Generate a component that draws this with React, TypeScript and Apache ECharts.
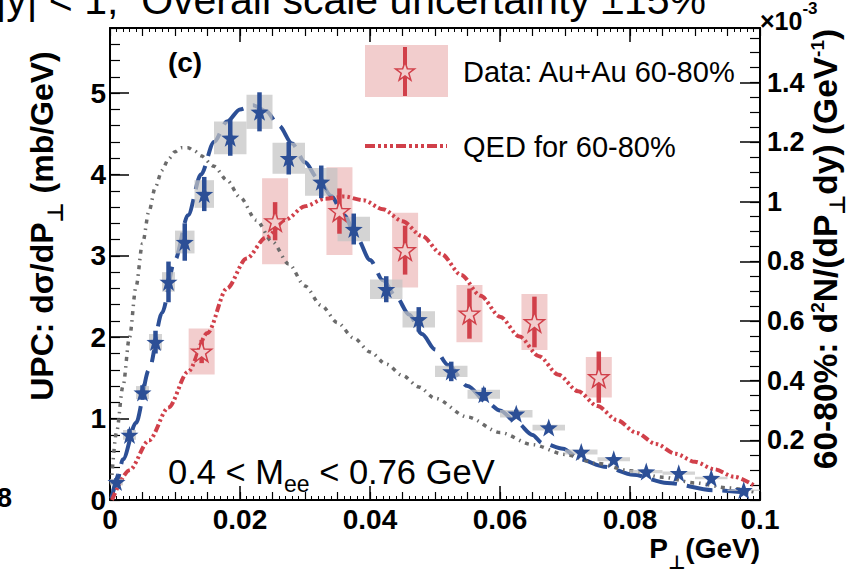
import React, { useEffect, useRef } from "react";
import * as echarts from "echarts";

const FONT = "'Liberation Sans', Arial, Helvetica, sans-serif";

// ---------- UPC measurement (left axis, mb/GeV) ----------
const upcPt = [0.001, 0.003, 0.005, 0.007, 0.009, 0.0115, 0.0145, 0.0185, 0.023, 0.0275, 0.0325, 0.0375, 0.0425, 0.0475, 0.0525, 0.0575, 0.0625, 0.0675, 0.0725, 0.0775, 0.0825, 0.0875, 0.0925, 0.0975];
const upcVal = [0.22, 0.8, 1.32, 1.94, 2.68, 3.17, 3.76, 4.45, 4.77, 4.2, 3.91, 3.33, 2.59, 2.22, 1.58, 1.3, 1.06, 0.89, 0.59, 0.5, 0.35, 0.33, 0.27, 0.12];
const upcStat = [0.05, 0.07, 0.09, 0.14, 0.25, 0.23, 0.21, 0.22, 0.24, 0.2, 0.2, 0.19, 0.16, 0.15, 0.12, 0.08, 0.05, 0.04, 0.03, 0.03, 0.02, 0.02, 0.02, 0.02];
const upcSys = [0.04, 0.06, 0.08, 0.1, 0.12, 0.14, 0.17, 0.2, 0.21, 0.19, 0.17, 0.15, 0.12, 0.1, 0.07, 0.055, 0.045, 0.035, 0.03, 0.025, 0.02, 0.02, 0.015, 0.01];
const upcBinHalf = [0.001, 0.001, 0.001, 0.001, 0.001, 0.0015, 0.0015, 0.0025, 0.002, 0.0025, 0.0025, 0.0025, 0.0025, 0.0025, 0.0025, 0.0025, 0.0025, 0.0025, 0.0025, 0.0025, 0.0025, 0.0025, 0.0025, 0.0025];

// model curve through the UPC points (long dashed)
const upcFitPt = [0.0002, 0.001, 0.002, 0.004, 0.006, 0.008, 0.010, 0.012, 0.014, 0.016, 0.018, 0.020, 0.022, 0.024, 0.026, 0.028, 0.030, 0.032, 0.034, 0.036, 0.038, 0.040, 0.042, 0.044, 0.046, 0.048, 0.050, 0.052, 0.055, 0.058, 0.060, 0.0626, 0.065, 0.0665, 0.0697, 0.0723, 0.076, 0.0805, 0.0857, 0.0928, 0.099];
const upcFitVal = [0.02, 0.2, 0.5, 0.95, 1.6, 2.3, 2.95, 3.5, 4.0, 4.4, 4.65, 4.8, 4.85, 4.78, 4.6, 4.38, 4.15, 3.95, 3.74, 3.5, 3.22, 2.95, 2.7, 2.5, 2.28, 2.04, 1.85, 1.66, 1.4, 1.2, 1.1, 0.95, 0.8, 0.7, 0.63, 0.5, 0.41, 0.31, 0.21, 0.12, 0.08];

// grey dash-dotted calculation (left axis)
const greyPt = [0.0002, 0.001, 0.002, 0.003, 0.004, 0.005, 0.006, 0.007, 0.008, 0.009, 0.010, 0.011, 0.012, 0.013, 0.014, 0.016, 0.018, 0.020, 0.0225, 0.025, 0.0275, 0.030, 0.0325, 0.035, 0.0375, 0.040, 0.0425, 0.045, 0.0475, 0.050, 0.055, 0.060, 0.065, 0.070, 0.075, 0.080, 0.085, 0.090, 0.095, 0.099];
const greyVal = [0.2, 0.83, 1.4, 2.0, 2.62, 3.15, 3.55, 3.85, 4.05, 4.19, 4.28, 4.33, 4.33, 4.29, 4.23, 4.1, 3.93, 3.72, 3.44, 3.17, 2.9, 2.63, 2.39, 2.18, 1.99, 1.82, 1.67, 1.53, 1.39, 1.25, 1.02, 0.83, 0.68, 0.56, 0.45, 0.36, 0.28, 0.21, 0.15, 0.1];

// ---------- Au+Au 60-80% (right axis, x10^-3 GeV^-1) ----------
const aaPt = [0.0141, 0.0254, 0.0353, 0.0454, 0.0553, 0.0653, 0.0752];
const aaVal = [0.498, 0.935, 0.969, 0.838, 0.625, 0.597, 0.412];
const aaStat = [0.039, 0.064, 0.076, 0.082, 0.084, 0.085, 0.086];
const aaSys = [0.077, 0.144, 0.147, 0.125, 0.096, 0.094, 0.068];
const aaBinHalf = [0.002, 0.002, 0.002, 0.002, 0.002, 0.002, 0.002];

// QED for 60-80%
const qedPt = [0.0003, 0.003, 0.006, 0.009, 0.012, 0.015, 0.018, 0.021, 0.024, 0.027, 0.030, 0.033, 0.036, 0.039, 0.042, 0.045, 0.048, 0.051, 0.054, 0.057, 0.060, 0.063, 0.066, 0.069, 0.072, 0.075, 0.078, 0.081, 0.084, 0.087, 0.090, 0.093, 0.096, 0.099];
const qedVal = [0, 0.1, 0.2, 0.31, 0.43, 0.56, 0.71, 0.81, 0.88, 0.94, 0.985, 1.01, 1.018, 1.005, 0.975, 0.935, 0.885, 0.825, 0.755, 0.685, 0.615, 0.548, 0.482, 0.42, 0.365, 0.315, 0.268, 0.225, 0.188, 0.155, 0.128, 0.103, 0.078, 0.05];

// tick labels
const xTickLabels = ["0", "0.02", "0.04", "0.06", "0.08", "0.1"];
const leftTickLabels = ["0", "1", "2", "3", "4", "5"];
const rightTickLabels = ["", "0.2", "0.4", "0.6", "0.8", "1", "1.2", "1.4"];

const BLUE = "#2c4f96";
const RED = "#d1404a";
const PINK = "#f2cdcd";
const GREY_LINE = "#6b6b6b";

function starPoints(cx: number, cy: number, R: number, r: number): number[][] {
  const pts: number[][] = [];
  for (let i = 0; i < 10; i++) {
    const a = -Math.PI / 2 + (i * Math.PI) / 5;
    const rad = i % 2 === 0 ? R : r;
    pts.push([cx + rad * Math.cos(a), cy + rad * Math.sin(a)]);
  }
  return pts;
}
const STAR_SYMBOL =
  "path://" +
  starPoints(50, 50, 50, 20)
    .map((p, i) => (i ? "L" : "M") + p[0].toFixed(2) + "," + p[1].toFixed(2))
    .join(" ") +
  " Z";

function labelAt(list: string[], step: number) {
  return (v: number) => {
    const k = Math.round(v / step);
    if (Math.abs(v - k * step) > step * 1e-3) return "";
    return list[k] ?? "";
  };
}

function boxSeries(px: number[], py: number[], hw: number[], hh: number[], yAxisIndex: number, fill: string, z: number) {
  return {
    type: "custom",
    xAxisIndex: 0,
    yAxisIndex,
    z,
    silent: true,
    clip: true,
    encode: { x: 0, y: 1 },
    data: px.map((x, i) => [x, py[i], hw[i], hh[i]]),
    renderItem: (_p: any, api: any) => {
      const x = api.value(0), y = api.value(1), w = api.value(2), h = api.value(3);
      const a = api.coord([x - w, y + h]);
      const b = api.coord([x + w, y - h]);
      return {
        type: "rect",
        shape: { x: a[0], y: a[1], width: b[0] - a[0], height: b[1] - a[1] },
        style: { fill },
      };
    },
  };
}

function errorSeries(px: number[], py: number[], err: number[], yAxisIndex: number, stroke: string, z: number) {
  return {
    type: "custom",
    xAxisIndex: 0,
    yAxisIndex,
    z,
    silent: true,
    clip: true,
    encode: { x: 0, y: 1 },
    data: px.map((x, i) => [x, py[i], err[i]]),
    renderItem: (_p: any, api: any) => {
      const x = api.value(0), y = api.value(1), e = api.value(2);
      const a = api.coord([x, y + e]);
      const b = api.coord([x, y - e]);
      return {
        type: "line",
        shape: { x1: a[0], y1: a[1], x2: b[0], y2: b[1] },
        style: { stroke, lineWidth: 4.5 },
      };
    },
  };
}

const axisBlack = { color: "#000" };

function xAxes(position: "bottom" | "top", labels: boolean) {
  return [
    {
      type: "value",
      min: 0,
      max: 0.1,
      interval: 0.02,
      position,
      axisLine: { show: true, onZero: false, lineStyle: { ...axisBlack, width: 2 } },
      axisTick: { show: true, inside: true, length: 14, lineStyle: { ...axisBlack, width: 1.5 } },
      axisLabel: {
        show: labels,
        margin: 5,
        fontSize: 28,
        fontWeight: "bold",
        fontFamily: FONT,
        color: "#000",
        formatter: labelAt(xTickLabels, 0.02),
      },
      splitLine: { show: false },
    },
    {
      type: "value",
      min: 0,
      max: 0.1,
      interval: 0.005,
      position,
      axisLine: { show: false, onZero: false },
      axisTick: { show: true, inside: true, length: 8, lineStyle: { ...axisBlack, width: 1.2 } },
      minorTick: { show: true, splitNumber: 5, length: 4, lineStyle: { ...axisBlack, width: 1 } },
      axisLabel: { show: false },
      splitLine: { show: false },
    },
  ];
}

const LEFT_MAX = 5.8;
const RIGHT_MAX = 1.583;

export default function App() {
  const ref = useRef<HTMLDivElement>(null);

  useEffect(() => {
    if (!ref.current) return;
    const chart = echarts.init(ref.current, undefined, { renderer: "svg" });

    const richSub = (size: number) => ({
      m: { fontSize: size, fontWeight: "bold", fontFamily: FONT, lineHeight: 36, verticalAlign: "top", fill: "#000" },
      s: { fontSize: 22, fontWeight: "bold", fontFamily: "'DejaVu Sans', sans-serif", lineHeight: 22, padding: [18, 0, 0, 0], verticalAlign: "top", fill: "#000" },
      p: { fontSize: 19, fontWeight: "bold", fontFamily: FONT, lineHeight: 19, verticalAlign: "top", fill: "#000" },
    });

    const legendStar = starPoints(405, 72, 10, 4);

    const option: any = {
      animation: false,
      backgroundColor: "#ffffff",
      textStyle: { fontFamily: FONT },
      grid: { left: 110, right: 93, top: 28, bottom: 77, containLabel: false },
      xAxis: [...xAxes("bottom", true), ...xAxes("top", false)],
      yAxis: [
        {
          type: "value",
          min: 0,
          max: LEFT_MAX,
          interval: 1,
          position: "left",
          axisLine: { show: true, onZero: false, lineStyle: { ...axisBlack, width: 2 } },
          axisTick: { show: true, inside: true, length: 19, lineStyle: { ...axisBlack, width: 1.5 } },
          axisLabel: {
            margin: 4,
            fontSize: 28,
            fontWeight: "bold",
            fontFamily: FONT,
            color: "#000",
            showMaxLabel: false,
            formatter: labelAt(leftTickLabels, 1),
          },
          splitLine: { show: false },
        },
        {
          type: "value",
          min: 0,
          max: LEFT_MAX,
          interval: 0.2,
          position: "left",
          axisLine: { show: false, onZero: false },
          axisTick: { show: true, inside: true, length: 10, lineStyle: { ...axisBlack, width: 1.2 } },
          axisLabel: { show: false },
          splitLine: { show: false },
        },
        {
          type: "value",
          min: 0,
          max: RIGHT_MAX,
          interval: 0.2,
          position: "right",
          axisLine: { show: true, onZero: false, lineStyle: { ...axisBlack, width: 2 } },
          axisTick: { show: true, inside: true, length: 20, lineStyle: { ...axisBlack, width: 1.5 } },
          axisLabel: {
            margin: 7,
            fontSize: 27,
            fontWeight: "bold",
            fontFamily: FONT,
            color: "#000",
            showMaxLabel: false,
            formatter: labelAt(rightTickLabels, 0.2),
          },
          splitLine: { show: false },
        },
        {
          type: "value",
          min: 0,
          max: RIGHT_MAX,
          interval: 0.05,
          position: "right",
          axisLine: { show: false, onZero: false },
          axisTick: { show: true, inside: true, length: 10, lineStyle: { ...axisBlack, width: 1.2 } },
          axisLabel: { show: false },
          splitLine: { show: false },
        },
      ],
      series: [
        // Au+Au systematic boxes (underneath everything)
        boxSeries(aaPt, aaVal, aaBinHalf, aaSys, 2, PINK, 1),
        // curves
        {
          type: "line",
          name: "UPC model",
          xAxisIndex: 0,
          yAxisIndex: 0,
          z: 2,
          symbol: "none",
          smooth: 0.3,
          smoothMonotone: "x",
          data: upcFitPt.map((x, i) => [x, upcFitVal[i]]),
          lineStyle: { color: BLUE, width: 4, type: [26, 10] },
        },
        {
          type: "line",
          name: "grey calc",
          xAxisIndex: 0,
          yAxisIndex: 0,
          z: 2,
          symbol: "none",
          smooth: 0.3,
          smoothMonotone: "x",
          data: greyPt.map((x, i) => [x, greyVal[i]]),
          lineStyle: { color: GREY_LINE, width: 3.5, type: [4, 5, 1.5, 5] },
        },
        {
          type: "line",
          name: "QED for 60-80%",
          xAxisIndex: 0,
          yAxisIndex: 2,
          z: 2,
          symbol: "none",
          smooth: 0.3,
          smoothMonotone: "x",
          data: qedPt.map((x, i) => [x, qedVal[i]]),
          lineStyle: { color: RED, width: 4, type: [8, 3, 2.5, 3, 2.5, 3, 2.5, 3] },
        },
        // UPC systematic boxes, semi-transparent over the curves
        boxSeries(upcPt, upcVal, upcBinHalf, upcSys, 0, "rgba(196,196,196,0.72)", 3),
        // error bars
        errorSeries(upcPt, upcVal, upcStat, 0, BLUE, 4),
        errorSeries(aaPt, aaVal, aaStat, 2, RED, 4),
        // markers
        {
          type: "scatter",
          name: "UPC",
          xAxisIndex: 0,
          yAxisIndex: 0,
          z: 5,
          symbol: STAR_SYMBOL,
          symbolSize: 18,
          data: upcPt.map((x, i) => [x, upcVal[i]]),
          itemStyle: { color: BLUE, opacity: 1 },
        },
        {
          type: "scatter",
          name: "Data: Au+Au 60-80%",
          xAxisIndex: 0,
          yAxisIndex: 2,
          z: 5,
          symbol: STAR_SYMBOL,
          symbolSize: 20,
          data: aaPt.map((x, i) => [x, aaVal[i]]),
          itemStyle: { color: PINK, borderColor: RED, borderWidth: 1.5, opacity: 1 },
        },
      ],
      graphic: [
        // caption running above the frame
        {
          type: "text",
          x: 706,
          y: 0,
          z: 10,
          style: {
            text: "|y| < 1,  Overall scale uncertainty \u00b115%",
            font: `41px ${FONT}`,
            fill: "#000",
            align: "right",
            verticalAlign: "middle",
          },
        },
        {
          type: "text",
          x: 185,
          y: 62,
          z: 10,
          style: { text: "(c)", font: `bold 28px ${FONT}`, fill: "#000", align: "center", verticalAlign: "middle" },
        },
        // mass window
        {
          type: "text",
          x: 168,
          y: 473,
          z: 10,
          style: {
            text: "{a|0.4 < M}{b|ee}{a| < 0.76 GeV}",
            align: "left",
            verticalAlign: "middle",
            rich: {
              a: { fontSize: 34.5, fontFamily: FONT, lineHeight: 37, verticalAlign: "top", fill: "#000" },
              b: { fontSize: 23, fontFamily: FONT, lineHeight: 23, padding: [18, 0, 0, 0], verticalAlign: "top", fill: "#000" },
            },
          },
        },
        // legend
        { type: "rect", z: 10, shape: { x: 365, y: 45, width: 83, height: 52 }, style: { fill: PINK } },
        { type: "line", z: 11, shape: { x1: 405, y1: 47, x2: 405, y2: 96 }, style: { stroke: RED, lineWidth: 4 } },
        { type: "polygon", z: 12, shape: { points: legendStar }, style: { fill: PINK, stroke: RED, lineWidth: 1.5 } },
        {
          type: "text",
          x: 463,
          y: 72,
          z: 10,
          style: { text: "Data: Au+Au 60-80%", font: `29px ${FONT}`, fill: "#000", align: "left", verticalAlign: "middle" },
        },
        {
          type: "polyline",
          z: 10,
          shape: { points: [[365, 146], [447, 146]] },
          style: { stroke: RED, lineWidth: 4, lineDash: [10, 3, 3, 3, 3, 3, 3, 3], fill: "none" },
        },
        {
          type: "text",
          x: 463,
          y: 147,
          z: 10,
          style: { text: "QED for 60-80%", font: `29px ${FONT}`, fill: "#000", align: "left", verticalAlign: "middle" },
        },
        // axis titles
        {
          type: "text",
          x: 44,
          y: 226,
          rotation: Math.PI / 2,
          z: 10,
          style: {
            text: "{m|UPC: d\u03c3/dP}{s|\u22a5}{m| (mb/GeV)}",
            align: "center",
            verticalAlign: "middle",
            rich: richSub(32),
          },
        },
        {
          type: "text",
          x: 826,
          y: 249,
          rotation: Math.PI / 2,
          z: 10,
          style: {
            text: "{m|60-80%: d}{p|2}{m|N/(dP}{s|\u22a5}{m|dy) (GeV}{p|-1}{m|)}",
            align: "center",
            verticalAlign: "middle",
            rich: richSub(33.5),
          },
        },
        {
          type: "text",
          x: 760,
          y: 551,
          z: 10,
          style: {
            text: "{m|P}{s|\u22a5}{m|(GeV)}",
            align: "right",
            verticalAlign: "middle",
            rich: {
              m: { fontSize: 28, fontWeight: "bold", fontFamily: FONT, lineHeight: 34, verticalAlign: "top", fill: "#000" },
              s: { fontSize: 19, fontWeight: "bold", fontFamily: "'DejaVu Sans', sans-serif", lineHeight: 19, padding: [18, 0, 0, 0], verticalAlign: "top", fill: "#000" },
            },
          },
        },
        {
          type: "text",
          x: 760,
          y: 14,
          z: 10,
          style: {
            text: "{a|\u00d710}{b|-3}",
            align: "left",
            verticalAlign: "middle",
            rich: {
              a: { fontSize: 25, fontWeight: "bold", fontFamily: FONT, lineHeight: 28, padding: [8, 0, 0, 0], verticalAlign: "top", fill: "#000" },
              b: { fontSize: 17, fontWeight: "bold", fontFamily: FONT, lineHeight: 17, verticalAlign: "top", fill: "#000" },
            },
          },
        },
        {
          type: "text",
          x: 12,
          y: 498,
          z: 10,
          style: { text: "8", font: `bold 27px ${FONT}`, fill: "#000", align: "right", verticalAlign: "middle" },
        },
      ],
    };

    chart.setOption(option);
    return () => chart.dispose();
  }, []);

  return (
    <div
      ref={ref}
      style={{ position: "fixed", left: 0, top: 0, width: 853, height: 577, background: "#fff" }}
    />
  );
}
